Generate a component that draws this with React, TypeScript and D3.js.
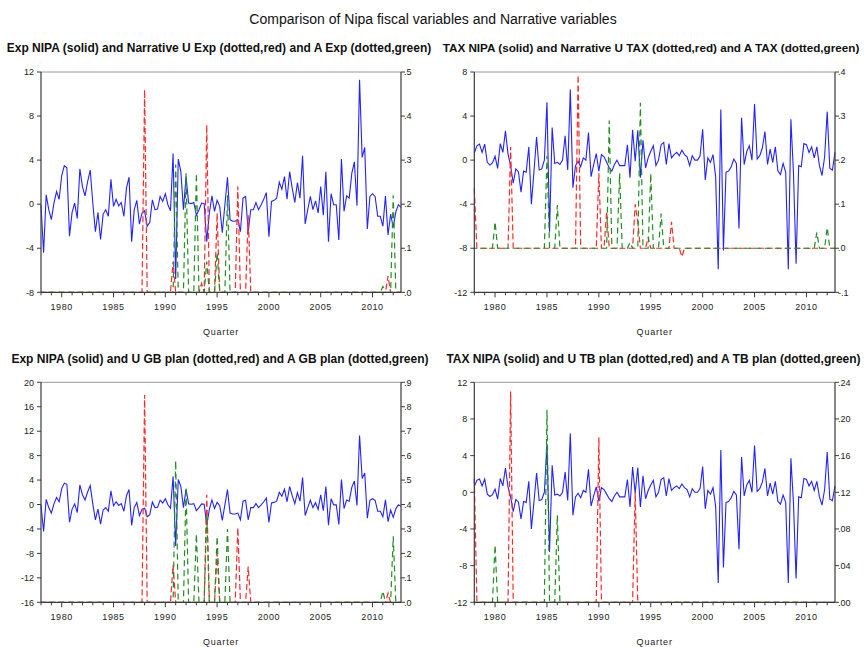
import React from "react";
import * as d3 from "d3";

// Quarterly data 1978Q1 .. 2012Q4 (140 quarters)
const START_YEAR = 1978;
const END_YEAR = 2012.75;

const expNipa = [
  -0.1, -4.4, 0.85, -0.5, -1.4, 0.1, 1.15, 0.45, 2.6, 3.5,
  3.3, -2.9, -0.75, 0.1, -1.3, 3.2, 1.6, 0.75, 2.05, 3.1,
  0.1, -2.5, -0.75, -3.2, -0.9, -0.5, -1.1, 2.25, -0.2, 0.45,
  -0.15, 0.15, -1.1, 1.45, 2.45, -3.4, -0.5, 0.35, -1.8, -0.8,
  -0.6, -2.0, -1.65, 0.4, -0.5, -0.45, 0.7, 0.25, 0.95, -0.05,
  -0.6, 4.6, -6.8, 4.1, 2.95, -0.5, 2.5, 0.1, 0.05, 0.15,
  -1.0, -0.5, 0.1, 0.05, -3.4, -0.8, 0.75, -0.65, 0.35, -0.2,
  -2.6, -0.05, 2.45, -1.4, -1.55, -1.55, -1.4, -2.5, 0.55, 0.7,
  -2.5, -0.5, -0.5, 0.15, -0.5, -0.05, 0.45, 1.05, -2.95, 0.25,
  0.35, 0.55, 2.0, 1.35, 2.5, 0.45, 2.95, 1.45, 0.15, 1.95,
  0.55, 4.4, -1.8, -0.5, 0.7, -0.5, 0.3, -0.8, 1.6, -1.0,
  2.95, -3.4, 0.95, -0.05, -0.05, -3.25, 4.1, -0.65, 0.75, 0.55,
  2.8, 3.85, -0.15, 11.3, 4.25, 5.15, -2.25, 0.7, 0.95, 0.7,
  -1.1, -1.1, -2.0, 0.75, -2.8, -0.9, -2.1, -0.7, -0.05, -0.3,
];

const taxNipa = [
  0.65, 1.3, 1.45, 0.7, 1.45, -0.2, -0.45, -0.25, 0.35, -0.75,
  1.5, 0.7, 2.65, 0.55, -0.5, -2.1, -0.8, -1.05, -2.9, -1.0,
  -1.1, 1.2, -4.0, -1.0, 2.1, -0.9, -0.8, 0.0, 5.25, -6.5,
  2.95, -0.3, -0.2, -0.4, 0.0, 2.2, -0.9, 6.4, -2.5, -0.5,
  -0.1, -0.6, 0.2, 0.0, 2.5, -1.5, -0.4, 0.6, -1.0, 0.5,
  0.3, -0.2, -0.7, -1.0, -0.4, 0.0, -0.5, -0.5, -0.5, 1.4,
  -1.6, 2.75, -0.1, 2.7, -1.6, 1.8, -0.7, 0.2, 0.8, 1.3,
  -0.5, 0.0, 1.4, 1.6, -0.4, 1.5, 0.2, 0.5, 0.7, 0.4,
  0.9, 0.5, 0.3, -0.5, 0.4, 0.0, 0.0, 0.4, 2.8, -1.8,
  0.2, -0.2, 0.5, -1.5, -9.9, 4.6, -8.2, -1.1, -1.0, -0.6,
  0.1, -0.3, -6.2, 3.85, -0.4, 0.8, 1.3, 0.0, 5.1, 0.1,
  0.4, 1.1, 2.6, -0.4, 1.0, -0.2, 1.2, -1.0, -1.3, -0.3,
  -1.1, -9.9, 3.7, -1.2, -9.4, -0.5, -0.6, 1.5, 1.4, 0.7,
  1.2, 0.2, 1.2, -0.5, -1.4, 0.3, 4.4, -0.75, -0.9, 0.7,
];

// Narrative series: nonzero quarters only [quarter date, value]; all other quarters are 0
const uExpNarrative: [number, number][] = [
  [1988.0, 0.46], [1990.75, 0.07], [1993.5, 0.02], [1994.0, 0.38],
  [1995.0, 0.18], [1997.0, 0.24], [1998.0, 0.175], [2011.5, 0.037],
];
const aExpNarrative: [number, number][] = [
  [1991.0, 0.29], [1992.0, 0.27], [1993.0, 0.27], [1994.0, 0.07],
  [1995.0, 0.09], [1996.0, 0.22], [2011.0, 0.013], [2012.0, 0.22],
];
const uTaxNarrative: [number, number][] = [
  [1978.0, 0.136], [1981.5, 0.23], [1988.0, 0.393], [1990.0, 0.17],
  [1990.75, 0.083], [1993.5, 0.10], [1993.75, 0.06], [1994.75, 0.025],
  [1997.0, 0.06], [1998.0, -0.019],
];
const aTaxNarrative: [number, number][] = [
  [1980.0, 0.06], [1985.0, 0.21], [1986.0, 0.098], [1991.0, 0.29],
  [1992.0, 0.17], [1993.0, 0.013], [1994.0, 0.33], [1995.0, 0.17],
  [1996.0, 0.079], [2011.0, 0.036], [2012.0, 0.047],
];
const uGbPlan: [number, number][] = [
  [1988.0, 0.848], [1990.75, 0.153], [1994.0, 0.44], [1995.0, 0.2],
  [1997.0, 0.305], [1998.0, 0.146], [2011.5, 0.037],
];
const aGbPlan: [number, number][] = [
  [1991.0, 0.58], [1992.0, 0.47], [1993.0, 0.28], [1994.0, 0.36],
  [1995.0, 0.27], [1996.0, 0.30], [2011.0, 0.046], [2012.0, 0.27],
];
const uTbPlan: [number, number][] = [
  [1978.0, 0.135], [1981.5, 0.23], [1990.0, 0.18], [1993.5, 0.12],
];
const aTbPlan: [number, number][] = [
  [1980.0, 0.0625], [1985.0, 0.21], [1986.0, 0.095],
];

const yearLabels = [1980, 1985, 1990, 1995, 2000, 2005, 2010];

const mainTitle = "Comparison of Nipa fiscal variables and Narrative variables";
const panelTitles = [
  "Exp NIPA (solid) and Narrative U Exp (dotted,red) and A Exp (dotted,green)",
  "TAX NIPA (solid) and Narrative U TAX (dotted,red) and A TAX (dotted,green)",
  "Exp NIPA (solid) and U GB plan (dotted,red) and A GB plan (dotted,green)",
  "TAX NIPA (solid) and U TB plan (dotted,red) and A TB plan (dotted,green)",
];
const xAxisTitle = "Quarter";

const N = expNipa.length;
function fillSeries(spikes: [number, number][]) {
  const arr = new Array(N).fill(0);
  spikes.forEach(([yr, v]) => {
    arr[Math.round((yr - START_YEAR) * 4)] = v;
  });
  return arr;
}

function fmtRight(v: number, dec: number) {
  const s = Math.abs(v).toFixed(dec).replace(/^0/, "");
  return (v < -1e-9 ? "-" : "") + s;
}

type Panel = {
  title: string;
  titleX: number; titleSize: number;
  x0: number; x1: number; y0: number; y1: number;
  titleY: number; quarterY: number;
  left: [number, number]; leftStep: number;
  right: [number, number]; rightStep: number; rightDec: number;
  blue: number[]; red: number[]; green: number[];
};

const TL = { x0: 41, x1: 401 };
const TR = { x0: 474.3, x1: 835 };

const panels: Panel[] = [
  { title: panelTitles[0], titleX: 219, titleSize: 12, ...TL, y0: 72, y1: 292.3, titleY: 51.5, quarterY: 335,
    left: [-8, 12], leftStep: 4, right: [0, 0.5], rightStep: 0.1, rightDec: 1,
    blue: expNipa, red: fillSeries(uExpNarrative), green: fillSeries(aExpNarrative) },
  { title: panelTitles[1], titleX: 651, titleSize: 11.7, ...TR, y0: 72, y1: 292.3, titleY: 51.5, quarterY: 335,
    left: [-12, 8], leftStep: 4, right: [-0.1, 0.4], rightStep: 0.1, rightDec: 1,
    blue: taxNipa, red: fillSeries(uTaxNarrative), green: fillSeries(aTaxNarrative) },
  { title: panelTitles[2], titleX: 220, titleSize: 12, ...TL, y0: 382.3, y1: 602.3, titleY: 362.5, quarterY: 645,
    left: [-16, 20], leftStep: 4, right: [0, 0.9], rightStep: 0.1, rightDec: 1,
    blue: expNipa, red: fillSeries(uGbPlan), green: fillSeries(aGbPlan) },
  { title: panelTitles[3], titleX: 653.5, titleSize: 12, ...TR, y0: 382.3, y1: 602.3, titleY: 362.5, quarterY: 645,
    left: [-12, 12], leftStep: 4, right: [0, 0.24], rightStep: 0.04, rightDec: 2,
    blue: taxNipa, red: fillSeries(uTbPlan), green: fillSeries(aTbPlan) },
];

const FONT = "'Liberation Sans', Arial, sans-serif";

function PanelView({ p }: { p: Panel }) {
  const x = d3.scaleLinear().domain([START_YEAR, END_YEAR]).range([p.x0, p.x1]);
  const yL = d3.scaleLinear().domain(p.left).range([p.y1, p.y0]);
  const yR = d3.scaleLinear().domain(p.right).range([p.y1, p.y0]);
  const lineL = d3.line<number>().x((_, i) => x(START_YEAR + i / 4)).y((d) => yL(d));
  const lineR = d3.line<number>().x((_, i) => x(START_YEAR + i / 4)).y((d) => yR(d));
  const nL = Math.round((p.left[1] - p.left[0]) / p.leftStep);
  const leftTicks = d3.range(nL + 1).map((i) => p.left[0] + i * p.leftStep);
  const nR = Math.round((p.right[1] - p.right[0]) / p.rightStep);
  const rightTicks = d3.range(nR + 1).map((i) => p.right[0] + i * p.rightStep);
  const years = d3.range(1978, 2013);
  const cx = (p.x0 + p.x1) / 2;
  const axisColor = "#3a3a3a";
  return (
    <g>
      <text x={p.titleX} y={p.titleY} textAnchor="middle" fontFamily={FONT} fontSize={p.titleSize}
        fontWeight="bold" fill="#111">{p.title}</text>
      <line x1={p.x0} x2={p.x1} y1={p.y0} y2={p.y0} stroke="#9a9a9a" strokeWidth={1} />
      <path d={lineL(p.blue) || ""} fill="none" stroke="#2323ff" strokeWidth={1.1} />
      <path d={lineR(p.red) || ""} fill="none" stroke="#ff2a2a" strokeWidth={1.2}
        strokeDasharray="6,3" />
      <path d={lineR(p.green) || ""} fill="none" stroke="#1f8f1f" strokeWidth={1.2}
        strokeDasharray="6,4" strokeDashoffset={3} />
      <line x1={p.x0} x2={p.x0} y1={p.y0} y2={p.y1} stroke={axisColor} strokeWidth={1.2} />
      <line x1={p.x1} x2={p.x1} y1={p.y0} y2={p.y1} stroke={axisColor} strokeWidth={1.2} />
      <line x1={p.x0} x2={p.x1} y1={p.y1} y2={p.y1} stroke={axisColor} strokeWidth={1.2} />
      {leftTicks.map((t) => (
        <g key={"l" + t}>
          <line x1={p.x0 - 4} x2={p.x0} y1={yL(t)} y2={yL(t)} stroke={axisColor} />
          <text x={p.x0 - 7} y={yL(t) + 3.2} textAnchor="end" fontFamily={FONT} fontSize={9}
            fill="#222">{t}</text>
        </g>
      ))}
      {rightTicks.map((t) => (
        <g key={"r" + t}>
          <line x1={p.x1} x2={p.x1 + 4} y1={yR(t)} y2={yR(t)} stroke={axisColor} />
          <text x={p.x1 + 3} y={yR(t) + 3.2} textAnchor="start" fontFamily={FONT} fontSize={9}
            fill="#222">{fmtRight(t, p.rightDec)}</text>
        </g>
      ))}
      {years.map((yr) => (
        <line key={"x" + yr} x1={x(yr)} x2={x(yr)} y1={p.y1} y2={p.y1 + (yr % 5 === 0 ? 5 : 3)}
          stroke={axisColor} />
      ))}
      {yearLabels.map((yr) => (
        <text key={"xl" + yr} x={x(yr)} y={p.y1 + 18} textAnchor="middle" fontFamily={FONT}
          fontSize={9} fill="#222" letterSpacing={0.6}>{yr}</text>
      ))}
      <text x={cx} y={p.quarterY} textAnchor="middle" fontFamily={FONT} fontSize={9}
        fill="#222" letterSpacing={0.8}>{xAxisTitle}</text>
    </g>
  );
}

export default function App() {
  return (
    <svg width={865} height={647} style={{ position: "absolute", left: 0, top: 0, background: "#fff" }}>
      <rect x={0} y={0} width={865} height={647} fill="#fff" />
      <text x={433} y={23.5} textAnchor="middle" fontFamily={FONT} fontSize={14} fill="#111">
        {mainTitle}
      </text>
      {panels.map((p, i) => (
        <PanelView key={i} p={p} />
      ))}
    </svg>
  );
}
